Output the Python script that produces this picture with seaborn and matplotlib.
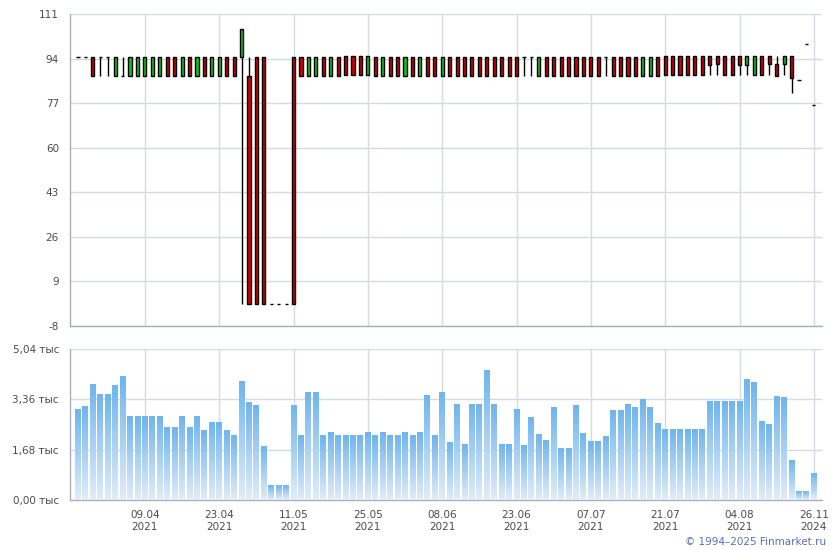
"""Price candles and trade volume, daily, Finmarket style."""

import matplotlib
matplotlib.use('Agg')
import matplotlib.pyplot as plt
from matplotlib.colors import LinearSegmentedColormap
import numpy as np
import seaborn as sns

# Daily quotes, oldest first (one row per trading day)
opens = [
    94.7, 94.7, 94.7, 94.7, 94.7, 87.4, 87.4, 87.4, 87.4, 87.4,
    87.4, 87.4, 94.7, 94.7, 87.4, 94.7, 87.4, 94.7, 87.4, 87.4,
    94.7, 94.7, 94.7, 87.4, 94.7, 94.7, 0.3, 0.3, 0.3, 94.7,
    94.7, 87.4, 87.4, 94.7, 87.4, 94.7, 95.1, 95.1, 95.1, 87.8,
    94.7, 87.4, 94.7, 94.7, 87.4, 94.7, 87.4, 94.7, 94.7, 87.4,
    94.7, 94.7, 94.7, 94.7, 94.7, 94.7, 94.7, 94.7, 94.7, 94.7,
    94.7, 94.7, 87.4, 94.7, 94.7, 94.7, 94.7, 94.7, 94.7, 94.7,
    94.7, 94.7, 94.7, 94.7, 94.7, 94.7, 87.4, 87.4, 94.7, 95.1,
    95.1, 95.1, 95.1, 95.1, 95.1, 95.1, 95.1, 95.1, 95.1, 95.1,
    91.7, 87.8, 95.1, 95.1, 92.1, 92.1, 95.1, 86.0, 99.5, 76.4,
]
highs = [
    94.7, 94.7, 94.7, 94.7, 94.7, 94.7, 94.7, 94.7, 94.7, 94.7,
    94.7, 94.7, 94.7, 94.7, 94.7, 94.7, 94.7, 94.7, 94.7, 94.7,
    94.7, 94.7, 105.1, 94.7, 94.7, 94.7, 0.3, 0.3, 0.3, 94.7,
    94.7, 94.7, 94.7, 94.7, 94.7, 94.7, 95.1, 95.1, 95.1, 95.1,
    94.7, 94.7, 94.7, 94.7, 94.7, 94.7, 94.7, 94.7, 94.7, 94.7,
    94.7, 94.7, 94.7, 94.7, 94.7, 94.7, 94.7, 94.7, 94.7, 94.7,
    94.7, 94.7, 94.7, 94.7, 94.7, 94.7, 94.7, 94.7, 94.7, 94.7,
    94.7, 94.7, 94.7, 94.7, 94.7, 94.7, 94.7, 94.7, 94.7, 95.1,
    95.1, 95.1, 95.1, 95.1, 95.1, 95.1, 95.1, 95.1, 95.1, 95.1,
    95.1, 95.1, 95.1, 95.1, 95.1, 95.1, 95.1, 86.0, 99.5, 76.4,
]
lows = [
    94.7, 94.7, 87.4, 87.4, 87.4, 87.4, 87.4, 87.4, 87.4, 87.4,
    87.4, 87.4, 87.4, 87.4, 87.4, 87.4, 87.4, 87.4, 87.4, 87.4,
    87.4, 87.4, 0.3, 0.3, 0.3, 0.3, 0.3, 0.3, 0.3, 0.3,
    87.4, 87.4, 87.4, 87.4, 87.4, 87.4, 87.8, 87.8, 87.8, 87.8,
    87.4, 87.4, 87.4, 87.4, 87.4, 87.4, 87.4, 87.4, 87.4, 87.4,
    87.4, 87.4, 87.4, 87.4, 87.4, 87.4, 87.4, 87.4, 87.4, 87.4,
    87.4, 87.4, 87.4, 87.4, 87.4, 87.4, 87.4, 87.4, 87.4, 87.4,
    87.4, 87.4, 87.4, 87.4, 87.4, 87.4, 87.4, 87.4, 87.4, 87.8,
    87.8, 87.8, 87.8, 87.8, 87.8, 87.8, 87.8, 87.8, 87.8, 87.8,
    87.8, 87.8, 87.8, 87.8, 87.5, 87.8, 81.0, 86.0, 99.5, 76.4,
]
closes = [
    94.7, 94.7, 87.4, 94.7, 94.7, 94.7, 87.4, 94.7, 94.7, 94.7,
    94.7, 94.7, 87.4, 87.4, 94.7, 87.4, 94.7, 87.4, 94.7, 94.7,
    87.4, 87.4, 105.1, 0.3, 0.3, 0.3, 0.3, 0.3, 0.3, 0.3,
    87.4, 94.7, 94.7, 87.4, 94.7, 87.4, 87.8, 87.8, 87.8, 95.1,
    87.4, 94.7, 87.4, 87.4, 94.7, 87.4, 94.7, 87.4, 87.4, 94.7,
    87.4, 87.4, 87.4, 87.4, 87.4, 87.4, 87.4, 87.4, 87.4, 87.4,
    94.7, 94.7, 94.7, 87.4, 87.4, 87.4, 87.4, 87.4, 87.4, 87.4,
    87.4, 94.7, 87.4, 87.4, 87.4, 87.4, 94.7, 94.7, 87.4, 87.8,
    87.8, 87.8, 87.8, 87.8, 87.8, 91.7, 92.1, 87.8, 87.8, 91.7,
    95.1, 95.1, 87.8, 92.1, 87.5, 95.1, 86.7, 86.0, 99.5, 76.4,
]
# Trade volume, thousand
volumes = [
    3.02, 3.12, 3.85, 3.52, 3.52, 3.82, 4.12, 2.79, 2.79, 2.79,
    2.79, 2.79, 2.43, 2.43, 2.79, 2.43, 2.79, 2.33, 2.59, 2.59,
    2.33, 2.16, 3.95, 3.26, 3.16, 1.79, 0.50, 0.50, 0.50, 3.16,
    2.16, 3.59, 3.59, 2.16, 2.26, 2.16, 2.16, 2.16, 2.16, 2.26,
    2.16, 2.26, 2.16, 2.16, 2.26, 2.16, 2.26, 3.49, 2.16, 3.59,
    1.93, 3.19, 1.86, 3.19, 3.19, 4.32, 3.19, 1.86, 1.86, 3.02,
    1.83, 2.76, 2.19, 1.99, 3.09, 1.73, 1.73, 3.16, 2.23, 1.96,
    1.96, 2.13, 2.99, 2.99, 3.19, 3.09, 3.36, 3.09, 2.56, 2.36,
    2.36, 2.36, 2.36, 2.36, 2.36, 3.29, 3.29, 3.29, 3.29, 3.29,
    4.02, 3.92, 2.62, 2.52, 3.46, 3.42, 1.33, 0.30, 0.30, 0.90,
]

# Labelled trading days (index into the series above)
label_days = [9, 19, 29, 39, 49, 59, 69, 79, 89, 99]
label_dates = ['09.04\n2021', '23.04\n2021', '11.05\n2021', '25.05\n2021',
               '08.06\n2021', '23.06\n2021', '07.07\n2021', '21.07\n2021',
               '04.08\n2021', '26.11\n2024']
price_ticks = [-8, 9, 26, 43, 60, 77, 94, 111]
volume_ticks = [0.0, 1.68, 3.36, 5.04]

sns.set_theme(style='white')
plt.rcParams['font.family'] = ['DejaVu Sans']

GRID = '#d5dbe2'
AXIS = '#a7afbc'
TEXT = '#4b4b4b'

days = np.arange(len(volumes))
o, h, l, c = (np.array(v) for v in (opens, highs, lows, closes))

fig = plt.figure(figsize=(8.4, 5.5), dpi=100)
ax1 = fig.add_axes([70 / 840, 224 / 550, 752 / 840, 312 / 550])
ax2 = fig.add_axes([70 / 840, 50 / 550, 752 / 840, 151 / 550])

# --- candles ---
body_colors = np.where(c > o, '#0ec80e', '#d00000')
ax1.vlines(days, l, h, color='black', linewidth=1, zorder=3)
ax1.bar(days, np.abs(c - o), bottom=np.minimum(o, c), width=0.42,
        color=body_colors, edgecolor='black', linewidth=1, zorder=4)

# --- volume bars with vertical gradient ---
sns.barplot(x=days, y=volumes, native_scale=True, width=0.8,
            color='#74b8ee', linewidth=0, ax=ax2)
cmap = LinearSegmentedColormap.from_list('vol', ['#e1ecf8', '#6fb5ee'])
grad = np.linspace(0, 1, 64).reshape(-1, 1)
for bar in list(ax2.patches):
    x0, w, hgt = bar.get_x(), bar.get_width(), bar.get_height()
    ax2.imshow(grad, extent=[x0, x0 + w, 0, hgt], origin='lower',
               aspect='auto', cmap=cmap, zorder=3)
    bar.set_visible(False)

for ax in (ax1, ax2):
    ax.set_xlim(-1.08, 100.1)
    ax.set_xticks(label_days)
    ax.grid(True, color=GRID, linewidth=1)
    ax.set_axisbelow(True)
    for side in ('top', 'right'):
        ax.spines[side].set_visible(False)
    for side in ('left', 'bottom'):
        ax.spines[side].set_color(AXIS)
        ax.spines[side].set_linewidth(1)
    ax.tick_params(axis='both', direction='out', length=6, width=1,
                   color=AXIS, labelcolor=TEXT, labelsize=7.5, pad=2)
    ax.set_xlabel('')
    ax.set_ylabel('')

ax1.set_ylim(-8, 111)
ax1.set_yticks(price_ticks)
ax1.set_yticklabels([str(t) for t in price_ticks])
ax1.tick_params(axis='x', labelbottom=False, length=4)

ax2.set_ylim(0, 5.04)
ax2.set_yticks(volume_ticks)
ax2.set_yticklabels([f'{t:.2f}'.replace('.', ',') + ' тыс' for t in volume_ticks])
ax2.set_xticklabels(label_dates, linespacing=1.3)
ax2.tick_params(axis='x', length=5)

fig.text(826 / 840, 8 / 550, '© 1994–2025 Finmarket.ru', ha='right',
         va='center', color='#5a6db4', fontsize=7.5)

fig.savefig('out.png', dpi=100)
